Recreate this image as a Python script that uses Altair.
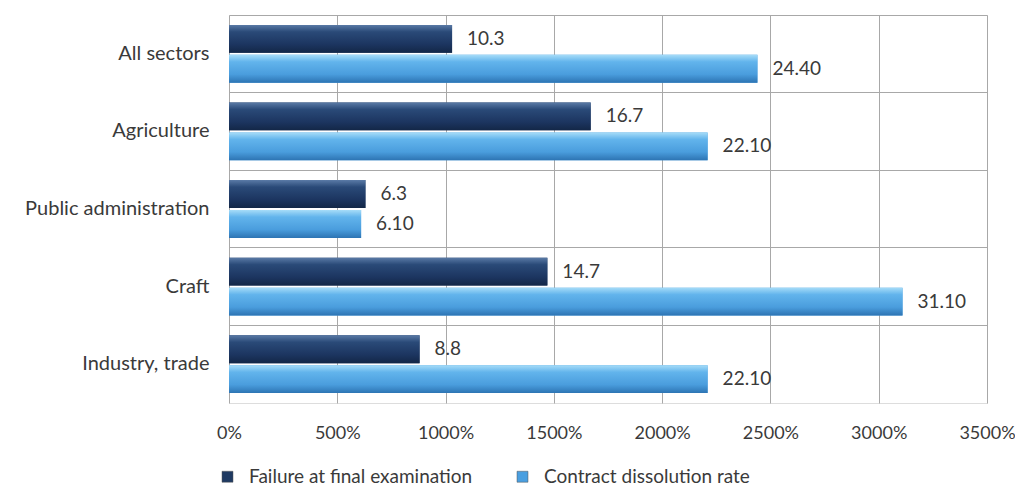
import altair as alt
import pandas as pd

categories = ["All sectors", "Agriculture", "Public administration", "Craft", "Industry, trade"]
series_names = ["Failure at final examination", "Contract dissolution rate"]
failure = [10.3, 16.7, 6.3, 14.7, 8.8]
dissolution = [24.4, 22.1, 6.1, 31.1, 22.1]
x_ticks = [0, 5, 10, 15, 20, 25, 30, 35]

rows = []
for c, f, d in zip(categories, failure, dissolution):
    rows.append({"cat": c, "series": series_names[0], "value": f, "label": f"{f:.1f}"})
    rows.append({"cat": c, "series": series_names[1], "value": d, "label": f"{d:.2f}"})
df = pd.DataFrame(rows)

FONT = "Lato"
TXT = "#3a3a3a"
dark = "#1f3a62"
light = "#4a9fe0"

y_enc = alt.Y("cat:N", sort=categories, title=None,
              scale=alt.Scale(paddingInner=0, paddingOuter=0),
              axis=alt.Axis(grid=True, bandPosition=0, ticks=False, domain=False,
                            labelPadding=20, labelFontSize=20, labelColor=TXT,
                            labelFont=FONT, labelLimit=0, gridColor="#a8a8a8", gridWidth=1))
yoff = alt.YOffset("series:N", sort=series_names,
                   scale=alt.Scale(paddingInner=0.07, paddingOuter=0.33))
x_enc = alt.X("value:Q", title=None,
              scale=alt.Scale(domain=[0, 35], nice=False),
              axis=alt.Axis(values=x_ticks, format="0%", grid=True, ticks=False, domain=False,
                            labelPadding=21, labelFontSize=18, labelColor=TXT, labelFlush=False,
                            labelOverlap=False, labelFont=FONT, gridColor="#a8a8a8", gridWidth=1))

base = alt.Chart(df).encode(y=y_enc, yOffset=yoff, x=x_enc)

legend_bars = base.mark_bar().encode(
    color=alt.Color("series:N", sort=series_names,
                    scale=alt.Scale(domain=series_names, range=[dark, light]),
                    legend=alt.Legend(title=None, orient="none", legendX=-11, legendY=452,
                                      direction="horizontal",
                                      symbolType="square", symbolSize=120, labelFontSize=19,
                                      labelFont=FONT, labelColor=TXT, columnPadding=40,
                                      labelLimit=0, labelOffset=12,
                                      symbolStrokeColor="#555555", symbolStrokeWidth=0.5))
)

grad_dark = alt.LinearGradient(gradient="linear", x1=0, x2=0, y1=0, y2=1, stops=[
    alt.GradientStop(offset=0, color="#5a7aa6"),
    alt.GradientStop(offset=0.25, color="#2a4a78"),
    alt.GradientStop(offset=0.7, color="#1c3560"),
    alt.GradientStop(offset=1, color="#132747")])
grad_light = alt.LinearGradient(gradient="linear", x1=0, x2=0, y1=0, y2=1, stops=[
    alt.GradientStop(offset=0, color="#a6dcf8"),
    alt.GradientStop(offset=0.25, color="#62b4ec"),
    alt.GradientStop(offset=0.7, color="#4a9ddd"),
    alt.GradientStop(offset=1, color="#2d74b3")])

dark_bars = base.transform_filter(alt.datum.series == series_names[0]).mark_bar(fill=grad_dark)
light_bars = base.transform_filter(alt.datum.series == series_names[1]).mark_bar(fill=grad_light)

labels = base.mark_text(align="left", baseline="middle", dx=15, fontSize=19,
                        font=FONT, color=TXT).encode(text="label:N")

chart = alt.layer(legend_bars, dark_bars, light_bars, labels).properties(
    width=758, height=388,
    autosize=alt.AutoSizeParams(type="none"),
    padding={"left": 221, "top": 7, "right": 28, "bottom": 85},
).configure_view(stroke="#9a9a9a", strokeWidth=1.5).configure(background="white")

chart.save("out.html", embed_options={"renderer": "svg", "actions": False})
